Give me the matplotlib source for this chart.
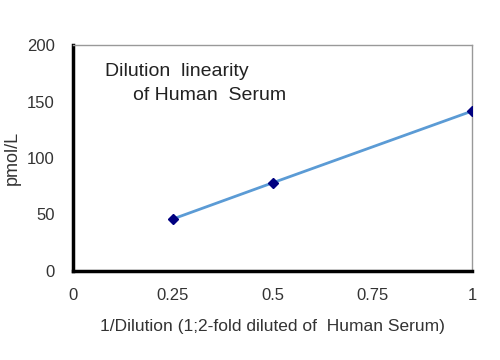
import matplotlib
matplotlib.use('Agg')
import matplotlib.pyplot as plt

# 数据
dilution = [0.25, 0.5, 1.0]
conc = [46, 78, 141.5]
x_ticks = [0, 0.25, 0.5, 0.75, 1]
x_tick_labels = ['0', '0.25', '0.5', '0.75', '1']
y_ticks = [0, 50, 100, 150, 200]

plt.rcParams['font.family'] = ['Liberation Sans', 'DejaVu Sans']

fig = plt.figure(figsize=(5, 3.6), dpi=100)
ax = fig.add_axes([73 / 500, 1 - 271 / 360, (472 - 73) / 500, (271 - 45) / 360])

ax.plot(dilution, conc, color='#5B9BD5', lw=2, zorder=2)
ax.plot(dilution, conc, ls='none', marker='D', ms=5, color='#000080', zorder=3)

ax.set_xlim(0, 1)
ax.set_ylim(0, 200)
ax.set_xticks(x_ticks)
ax.set_xticklabels(x_tick_labels)
ax.set_yticks(y_ticks)
ax.tick_params(length=0, labelsize=12, labelcolor='#333333')
ax.tick_params(axis='y', pad=13)
ax.tick_params(axis='x', pad=12)

for s in ['left', 'bottom']:
    ax.spines[s].set_linewidth(2.5)
    ax.spines[s].set_color('black')
for s in ['top', 'right']:
    ax.spines[s].set_linewidth(1)
    ax.spines[s].set_color('#999999')

ax.set_ylabel('pmol/L', fontsize=13, color='#333333')
ax.yaxis.set_label_coords((21 - 73) / 399, 0.5)
ax.set_xlabel('1/Dilution (1;2-fold diluted of  Human Serum)', fontsize=12.5,
              color='#333333', labelpad=12)

fig.text(105 / 500, 1 - 72 / 360, 'Dilution  linearity', fontsize=14,
         color='#222222', va='center')
fig.text(133 / 500, 1 - 96 / 360, 'of Human  Serum', fontsize=14,
         color='#222222', va='center')

fig.savefig('out.png', dpi=100)
